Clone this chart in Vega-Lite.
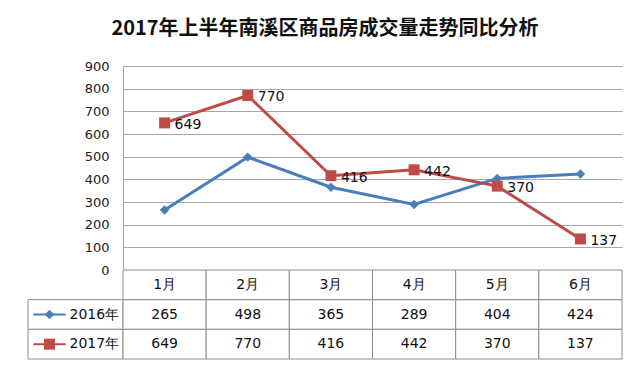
{
  "$schema": "https://vega.github.io/schema/vega-lite/v6.json",
  "padding": {"left": 27, "top": 19, "right": 16, "bottom": 4},
  "background": "white",
  "title": {
    "text": "2017年上半年南溪区商品房成交量走势同比分析",
    "font": "Noto Sans CJK SC",
    "fontSize": 20,
    "fontWeight": "bold",
    "color": "#111111",
    "anchor": "middle",
    "offset": 21
  },
  "config": {
    "view": {"stroke": null},
    "font": "DejaVu Sans"
  },
  "data": {
    "values": [
      {"month": "1月", "series": "2016年", "value": 265},
      {"month": "2月", "series": "2016年", "value": 498},
      {"month": "3月", "series": "2016年", "value": 365},
      {"month": "4月", "series": "2016年", "value": 289},
      {"month": "5月", "series": "2016年", "value": 404},
      {"month": "6月", "series": "2016年", "value": 424},
      {"month": "1月", "series": "2017年", "value": 649},
      {"month": "2月", "series": "2017年", "value": 770},
      {"month": "3月", "series": "2017年", "value": 416},
      {"month": "4月", "series": "2017年", "value": 442},
      {"month": "5月", "series": "2017年", "value": 370},
      {"month": "6月", "series": "2017年", "value": 137}
    ]
  },
  "columns": 2,
  "spacing": 0,
  "bounds": "flush",
  "resolve": {"scale": {"x": "independent", "y": "independent"}},
  "concat": [
    {
      "width": 95,
      "height": 204,
      "mark": {"type": "text"},
      "encoding": {"text": {"value": ""}}
    },
    {
      "width": 499,
      "height": 204,
      "encoding": {
        "x": {"field": "month", "type": "ordinal", "sort": null, "scale": {"type": "point", "padding": 0.5}, "axis": null},
        "y": {
          "field": "value", "type": "quantitative",
          "scale": {"domain": [0, 900], "nice": false},
          "axis": {
            "title": null, "values": [0, 100, 200, 300, 400, 500, 600, 700, 800, 900],
            "ticks": false, "labelPadding": 14, "labelFontSize": 13, "labelColor": "#222222",
            "grid": true, "gridColor": "#a6a6a6", "domainColor": "#a6a6a6", "labelFont": "DejaVu Sans"
          }
        },
        "color": {"field": "series", "type": "nominal", "scale": {"domain": ["2016年", "2017年"], "range": ["#4a7ebb", "#be4b48"]}, "legend": null}
      },
      "layer": [
        {"mark": {"type": "line", "strokeWidth": 3}},
        {
          "mark": {"type": "point", "filled": true, "opacity": 1},
          "encoding": {
            "shape": {"field": "series", "type": "nominal", "scale": {"domain": ["2016年", "2017年"], "range": ["diamond", "square"]}, "legend": null},
            "size": {"field": "series", "type": "nominal", "scale": {"domain": ["2016年", "2017年"], "range": [90, 121]}, "legend": null}
          }
        },
        {
          "transform": [{"filter": "datum.series == '2017年'"}],
          "mark": {"type": "text", "align": "left", "baseline": "middle", "dx": 10, "dy": 2, "fontSize": 14, "color": "#111111"},
          "encoding": {"text": {"field": "value", "type": "quantitative"}, "color": {"value": "#111111"}}
        }
      ]
    },
    {
      "width": 95,
      "height": 89,
      "transform": [{"filter": "datum.month == '1月'"}],
      "encoding": {
        "y": {"field": "series", "type": "nominal", "scale": {"domain": ["hdr", "2016年", "2017年"], "paddingInner": 0, "paddingOuter": 0}, "axis": null}
      },
      "layer": [
        {"mark": {"type": "rect", "fill": "white", "stroke": "#8c8c8c", "strokeWidth": 1}},
        {
          "mark": {"type": "point", "shape": "stroke", "size": 1050, "strokeWidth": 2, "filled": false, "opacity": 1, "xOffset": -26},
          "encoding": {"color": {"field": "series", "type": "nominal", "scale": {"domain": ["2016年", "2017年"], "range": ["#4a7ebb", "#be4b48"]}, "legend": null}}
        },
        {
          "mark": {"type": "point", "filled": true, "opacity": 1, "xOffset": -26},
          "encoding": {
            "color": {"field": "series", "type": "nominal", "scale": {"domain": ["2016年", "2017年"], "range": ["#4a7ebb", "#be4b48"]}, "legend": null},
            "shape": {"field": "series", "type": "nominal", "scale": {"domain": ["2016年", "2017年"], "range": ["diamond", "square"]}, "legend": null},
            "size": {"field": "series", "type": "nominal", "scale": {"domain": ["2016年", "2017年"], "range": [70, 90]}, "legend": null}
          }
        },
        {
          "mark": {"type": "text", "align": "left", "baseline": "middle", "dx": -6, "fontSize": 14, "color": "#111111"},
          "encoding": {"text": {"field": "series", "type": "nominal"}}
        }
      ]
    },
    {
      "width": 499,
      "height": 89,
      "encoding": {
        "x": {"field": "month", "type": "nominal", "sort": null, "scale": {"paddingInner": 0, "paddingOuter": 0}, "axis": null},
        "y": {"field": "series", "type": "nominal", "scale": {"domain": ["hdr", "2016年", "2017年"], "paddingInner": 0, "paddingOuter": 0}, "axis": null}
      },
      "layer": [
        {"mark": {"type": "rect", "fill": "white", "stroke": "#8c8c8c", "strokeWidth": 1}},
        {
          "mark": {"type": "text", "fontSize": 14, "color": "#111111", "baseline": "middle"},
          "encoding": {"text": {"field": "value", "type": "quantitative"}}
        },
        {
          "transform": [{"filter": "datum.series == '2016年'"}],
          "mark": {"type": "rect", "fill": "white", "stroke": "#8c8c8c", "strokeWidth": 1},
          "encoding": {"y": {"datum": "hdr"}}
        },
        {
          "transform": [{"filter": "datum.series == '2016年'"}],
          "mark": {"type": "text", "fontSize": 14, "color": "#111111", "baseline": "middle"},
          "encoding": {"y": {"datum": "hdr"}, "text": {"field": "month", "type": "nominal"}}
        }
      ]
    }
  ]
}
